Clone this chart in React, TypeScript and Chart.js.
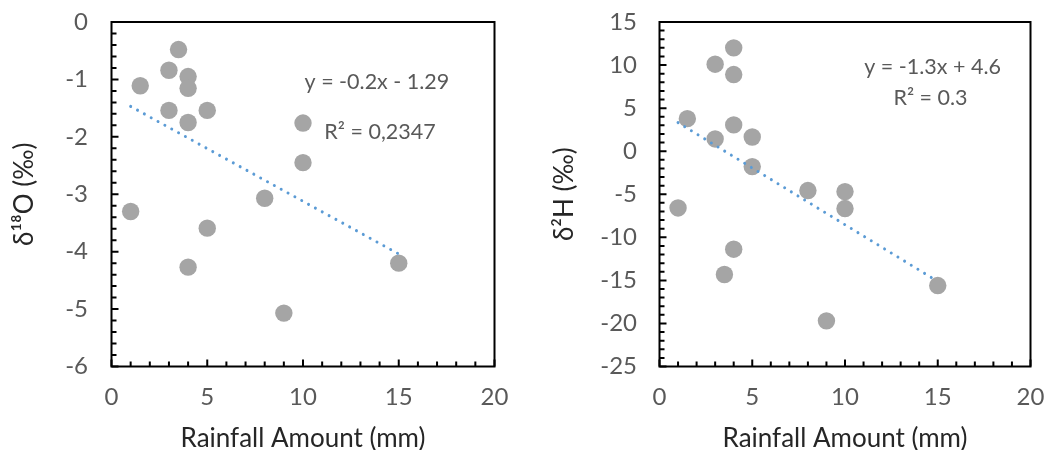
import React, { useEffect, useRef } from "react";
import { Chart, registerables } from "chart.js";

Chart.register(...registerables);

// ---------- data ----------
const rainfallO: number[] = [3.5, 3, 4, 1.5, 4, 3, 5, 4, 10, 10, 8, 1, 5, 4, 15, 9];
const delta18O: number[] = [-0.48, -0.84, -0.95, -1.11, -1.155, -1.54, -1.54, -1.75, -1.76, -2.45, -3.07, -3.3, -3.59, -4.27, -4.2, -5.07];
const rainfallH: number[] = [4, 3, 4, 1.5, 4, 3, 5, 5, 8, 10, 10, 1, 4, 3.5, 15, 9];
const delta2H: number[] = [12, 10.1, 8.9, 3.78, 3.05, 1.42, 1.65, -1.79, -4.57, -4.69, -6.66, -6.59, -11.38, -14.32, -15.6, -19.7];

const trendX: number[] = [1, 15];
const trendO: number[] = [-1.47, -4.04];
const trendH: number[] = [3.32, -15.12];

const eqTextO: string[] = ["y = -0.2x - 1.29", "R² = 0,2347"];
const eqTextH: string[] = ["y = -1.3x + 4.6", "R² = 0.3"];

const xTitle = "Rainfall Amount (mm)";
const yTitleO = "δ¹⁸O (‰)";
const yTitleH = "δ²H (‰)";

// ---------- styles / layout ----------
const FONT = "Lato, 'Open Sans', sans-serif";
const TICK_COLOR = "#595959";
const TITLE_COLOR = "#262626";
const POINT_COLOR = "#A5A5A5";
const TREND_COLOR = "#5B9BD5";

const framePlugin = {
  id: "excelFrame",
  afterDraw(chart: any) {
    const o = chart.options.plugins.excelFrame;
    if (!o) return;
    const { ctx, chartArea } = chart;
    const xs = chart.scales.x;
    const ys = chart.scales.y;
    ctx.save();
    ctx.strokeStyle = "#000";
    ctx.lineWidth = 2;
    ctx.beginPath();
    const eps = 1e-6;
    for (let v = xs.min; v <= xs.max + eps; v += o.xMinor) {
      const px = xs.getPixelForValue(v);
      const isMajor = Math.abs(v / o.xMajor - Math.round(v / o.xMajor)) < 1e-6;
      const len = isMajor ? 7 : 5;
      ctx.moveTo(px, chartArea.bottom);
      ctx.lineTo(px, chartArea.bottom - len);
    }
    for (let v = ys.min; v <= ys.max + eps; v += o.yMinor) {
      const py = ys.getPixelForValue(v);
      const isMajor = Math.abs(v / o.yMajor - Math.round(v / o.yMajor)) < 1e-6;
      const len = isMajor ? 7 : 5;
      ctx.moveTo(chartArea.left, py);
      ctx.lineTo(chartArea.left + len, py);
    }
    ctx.stroke();
    ctx.strokeRect(chartArea.left, chartArea.top, chartArea.right - chartArea.left, chartArea.bottom - chartArea.top);
    ctx.fillStyle = TICK_COLOR;
    ctx.font = `21.5px ${FONT}`;
    ctx.textAlign = "center";
    ctx.textBaseline = "middle";
    for (const n of o.notes) {
      ctx.fillText(n.text, xs.getPixelForValue(n.x), ys.getPixelForValue(n.y));
    }
    ctx.restore();
  },
};

type PanelProps = {
  left: number;
  xs: number[];
  ys: number[];
  trendY: number[];
  yMin: number;
  yMax: number;
  yStep: number;
  yMinor: number;
  yTitle: string;
  notes: { text: string; x: number; y: number }[];
  yAxisWidth: number;
  padRight: number;
  yLabelPad: number;
  yTitlePad: number;
};

function Panel(p: PanelProps) {
  const ref = useRef<HTMLCanvasElement | null>(null);
  useEffect(() => {
    if (!ref.current) return;
    const chart = new Chart(ref.current, {
      type: "scatter",
      data: {
        datasets: [
          {
            data: trendX.map((x, i) => ({ x, y: p.trendY[i] })),
            showLine: true,
            borderColor: TREND_COLOR,
            borderWidth: 3,
            borderDash: [0.01, 7.8],
            borderCapStyle: "round",
            pointRadius: 0,
            fill: false,
          } as any,
          {
            data: p.xs.map((x, i) => ({ x, y: p.ys[i] })),
            backgroundColor: POINT_COLOR,
            borderWidth: 0,
            pointRadius: 8.7,
            pointHoverRadius: 8.7,
          },
        ],
      },
      options: {
        responsive: false,
        animation: false,
        events: [],
        layout: { padding: { left: 0, top: 22, right: p.padRight, bottom: 0 } },
        plugins: {
          legend: { display: false },
          tooltip: { enabled: false },
          excelFrame: { xMinor: 1, xMajor: 5, yMinor: p.yMinor, yMajor: p.yStep, notes: p.notes },
        } as any,
        scales: {
          x: {
            type: "linear",
            min: 0,
            max: 20,
            ticks: { stepSize: 5, color: TICK_COLOR, font: { family: FONT, size: 24 }, padding: 16.5 },
            grid: { display: false, drawTicks: false },
            border: { display: false },
            title: {
              display: true,
              text: xTitle,
              color: TITLE_COLOR,
              font: { family: FONT, size: 26, lineHeight: 0.85 },
              padding: { top: 0, bottom: 0 },
            },
            afterFit: (s: any) => {
              s.height = 450 - 366.5;
              s.paddingLeft = 0;
              s.paddingRight = 0;
            },
          },
          y: {
            type: "linear",
            min: p.yMin,
            max: p.yMax,
            ticks: { stepSize: p.yStep, color: TICK_COLOR, font: { family: FONT, size: 24 }, padding: p.yLabelPad },
            grid: { display: false, drawTicks: false },
            border: { display: false },
            title: {
              display: true,
              text: p.yTitle,
              color: TITLE_COLOR,
              font: { family: FONT, size: 26, lineHeight: 1 },
              padding: { top: p.yTitlePad, bottom: 0 },
            },
            afterFit: (s: any) => {
              s.width = p.yAxisWidth;
              s.paddingTop = 0;
              s.paddingBottom = 0;
            },
          },
        },
      },
      plugins: [framePlugin],
    });
    return () => chart.destroy();
  }, []);
  return (
    <canvas
      ref={ref}
      width={523}
      height={450}
      style={{ position: "absolute", left: p.left, top: 0, width: 523, height: 450 }}
    />
  );
}

export default function App() {
  return (
    <div style={{ position: "absolute", left: 0, top: 0, width: 1046, height: 450, background: "#fff" }}>
      <Panel
        left={0}
        xs={rainfallO}
        ys={delta18O}
        trendY={trendO}
        yMin={-6}
        yMax={0}
        yStep={1}
        yMinor={0.2}
        yTitle={yTitleO}
        notes={[
          { text: eqTextO[0], x: 13.86, y: -1.045 },
          { text: eqTextO[1], x: 14.02, y: -1.92 },
        ]}
        yAxisWidth={111.5}
        padRight={523 - 494.5}
        yLabelPad={23.5}
        yTitlePad={12}
      />
      <Panel
        left={523}
        xs={rainfallH}
        ys={delta2H}
        trendY={trendH}
        yMin={-25}
        yMax={15}
        yStep={5}
        yMinor={1}
        yTitle={yTitleH}
        notes={[
          { text: eqTextH[0], x: 14.72, y: 9.78 },
          { text: eqTextH[1], x: 14.61, y: 6.18 },
        ]}
        yAxisWidth={136.5}
        padRight={523 - 507.5}
        yLabelPad={22.5}
        yTitlePad={29}
      />
    </div>
  );
}
